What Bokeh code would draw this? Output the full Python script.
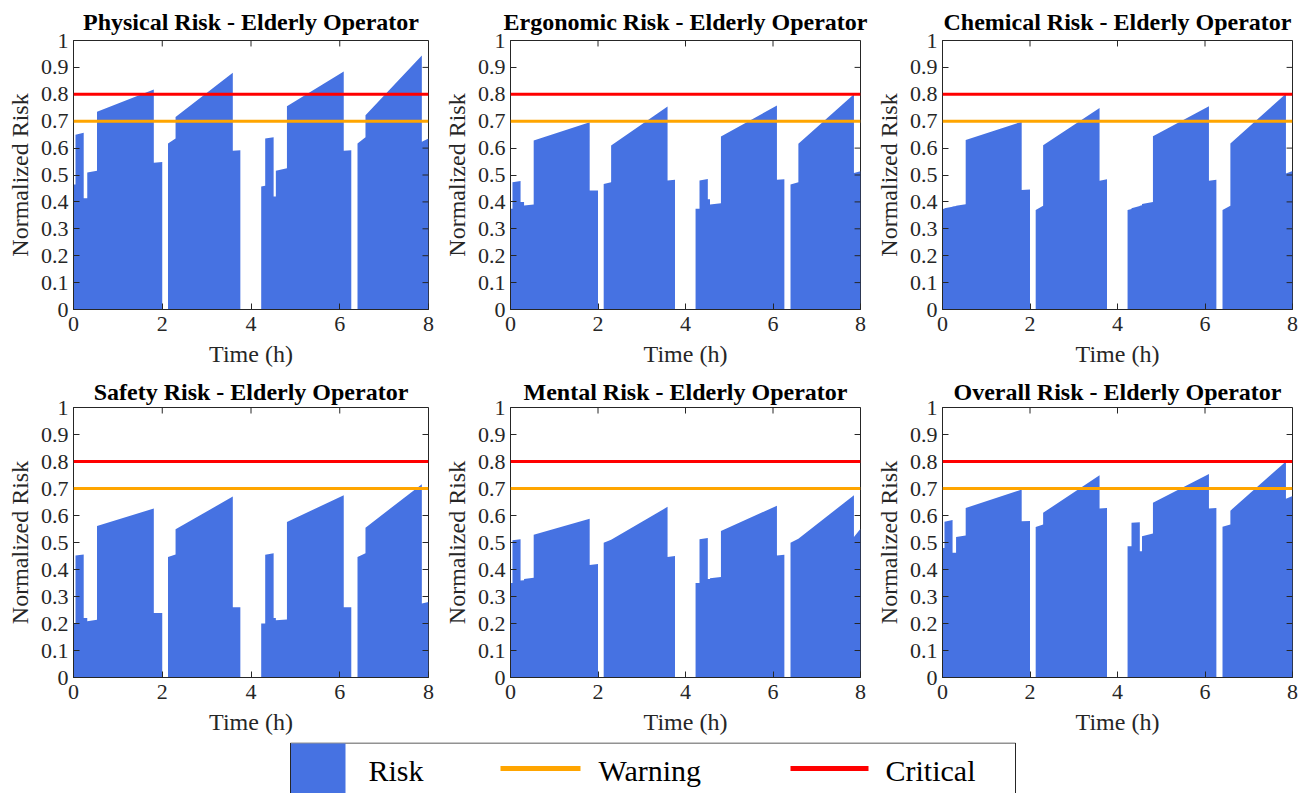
from bokeh.plotting import figure
from bokeh.models import Range1d, FixedTicker, Span
from bokeh.layouts import column, row
from bokeh.embed import file_html
from bokeh.resources import INLINE
from bokeh.core.properties import value

# ---------------- data ----------------
# segment edges of the shift timeline (hours)
EDGES = [0.0, 0.045, 0.23, 0.31, 0.53, 1.81, 2.0, 2.13, 2.30, 3.59, 3.76,
         4.23, 4.32, 4.51, 4.56, 4.81, 6.09, 6.26, 6.40, 6.58, 7.85, 8.0]

# risk value at start / end of each segment
physical_start = [0.465, 0.650, 0.414, 0.509, 0.735, 0.546, 0, 0.617, 0.716, 0.590, 0,
                  0.457, 0.636, 0.420, 0.516, 0.756, 0.590, 0, 0.617, 0.722, 0.624]
physical_end = [0.465, 0.657, 0.414, 0.516, 0.818, 0.548, 0, 0.636, 0.880, 0.592, 0,
                0.460, 0.640, 0.420, 0.525, 0.885, 0.592, 0, 0.640, 0.944, 0.636]

ergonomic_start = [0.375, 0.473, 0.400, 0.387, 0.628, 0.442, 0, 0.467, 0.610, 0.480, 0,
                   0.375, 0.480, 0.410, 0.390, 0.643, 0.482, 0, 0.465, 0.616, 0.507]
ergonomic_end = [0.375, 0.478, 0.400, 0.390, 0.696, 0.442, 0, 0.473, 0.755, 0.482, 0,
                 0.375, 0.485, 0.410, 0.395, 0.758, 0.484, 0, 0.473, 0.800, 0.514]

chemical_start = [0.374, 0.376, 0.383, 0.386, 0.630, 0.444, 0, 0.370, 0.611, 0.479, 0,
                  0.370, 0.376, 0.386, 0.392, 0.644, 0.479, 0, 0.370, 0.617, 0.506]
chemical_end = [0.375, 0.382, 0.385, 0.391, 0.698, 0.446, 0, 0.386, 0.749, 0.484, 0,
                0.374, 0.385, 0.388, 0.400, 0.756, 0.482, 0, 0.386, 0.802, 0.515]

safety_start = [0.200, 0.452, 0.220, 0.208, 0.561, 0.239, 0, 0.446, 0.549, 0.260, 0,
                0.200, 0.455, 0.220, 0.212, 0.576, 0.260, 0, 0.446, 0.555, 0.274]
safety_end = [0.200, 0.456, 0.220, 0.214, 0.626, 0.239, 0, 0.456, 0.670, 0.260, 0,
              0.200, 0.460, 0.220, 0.215, 0.675, 0.260, 0, 0.460, 0.716, 0.280]

mental_start = [0.350, 0.508, 0.359, 0.365, 0.529, 0.417, 0, 0.499, 0.510, 0.446, 0,
                0.350, 0.512, 0.365, 0.368, 0.543, 0.452, 0, 0.499, 0.514, 0.520]
mental_end = [0.350, 0.512, 0.360, 0.369, 0.588, 0.420, 0, 0.510, 0.632, 0.450, 0,
              0.350, 0.517, 0.365, 0.372, 0.636, 0.455, 0, 0.514, 0.675, 0.551]

overall_start = [0.480, 0.577, 0.462, 0.520, 0.628, 0.579, 0, 0.557, 0.610, 0.626, 0,
                 0.486, 0.573, 0.468, 0.523, 0.647, 0.626, 0, 0.558, 0.618, 0.662]
overall_end = [0.480, 0.583, 0.462, 0.526, 0.696, 0.580, 0, 0.567, 0.749, 0.628, 0,
               0.486, 0.575, 0.468, 0.533, 0.754, 0.628, 0, 0.567, 0.800, 0.672]

TITLES = ["Physical Risk - Elderly Operator", "Ergonomic Risk - Elderly Operator",
          "Chemical Risk - Elderly Operator", "Safety Risk - Elderly Operator",
          "Mental Risk - Elderly Operator", "Overall Risk - Elderly Operator"]
SERIES = [(physical_start, physical_end), (ergonomic_start, ergonomic_end),
          (chemical_start, chemical_end), (safety_start, safety_end),
          (mental_start, mental_end), (overall_start, overall_end)]

WARNING = 0.7
CRITICAL = 0.8
X_MIN, X_MAX = 0, 8
Y_MIN, Y_MAX = 0, 1
X_TICKS = [0, 2, 4, 6, 8]
Y_TICKS = [0, 0.1, 0.2, 0.3, 0.4, 0.5, 0.6, 0.7, 0.8, 0.9, 1.0]
Y_TICK_LABELS = ["0", "0.1", "0.2", "0.3", "0.4", "0.5", "0.6", "0.7", "0.8", "0.9", "1"]
LEGEND_LABELS = ["Risk", "Warning", "Critical"]

# ---------------- style ----------------
FONT = "Liberation Serif"
BLUE = "#4672E2"
ORANGE = "#FFA500"
RED = "#FF0000"
AXC = "#262626"
FRAME_W = 355
FRAME_H = 270
TICK_PX = 6


def style_axis(ax):
    ax.axis_line_color = AXC
    ax.major_tick_line_color = AXC
    ax.major_tick_in = TICK_PX
    ax.major_tick_out = 0
    ax.minor_tick_line_color = None
    ax.major_label_text_font = FONT
    ax.major_label_text_font_size = "22px"
    ax.major_label_text_color = AXC
    ax.axis_label_text_font = FONT
    ax.axis_label_text_font_size = "24px"
    ax.axis_label_text_font_style = "normal"
    ax.axis_label_text_color = AXC


def make_panel(title, starts, ends, left_border, top_border, bottom_border,
               title_standoff, x_label_standoff):
    xs, ys = [], []
    for i in range(len(starts)):
        xs += [EDGES[i], EDGES[i + 1]]
        ys += [starts[i], ends[i]]
    right_border = 12
    p = figure(width=left_border + FRAME_W + right_border,
               height=top_border + FRAME_H + bottom_border,
               x_range=Range1d(X_MIN, X_MAX), y_range=Range1d(Y_MIN, Y_MAX),
               output_backend="svg", toolbar_location=None,
               min_border_left=left_border, min_border_right=right_border,
               min_border_top=top_border, min_border_bottom=bottom_border)
    p.varea(x=xs, y1=0, y2=ys, fill_color=BLUE)
    p.add_layout(Span(location=WARNING, dimension="width", line_color=ORANGE, line_width=3))
    p.add_layout(Span(location=CRITICAL, dimension="width", line_color=RED, line_width=3))
    # inward ticks on the top and right edges of the box
    dy = TICK_PX * (Y_MAX - Y_MIN) / FRAME_H
    dx = TICK_PX * (X_MAX - X_MIN) / FRAME_W
    p.segment(x0=X_TICKS, y0=[Y_MAX] * len(X_TICKS), x1=X_TICKS,
              y1=[Y_MAX - dy] * len(X_TICKS), line_color=AXC, line_width=1)
    p.segment(x0=[X_MAX] * len(Y_TICKS), y0=Y_TICKS, x1=[X_MAX - dx] * len(Y_TICKS),
              y1=Y_TICKS, line_color=AXC, line_width=1)
    p.xgrid.visible = False
    p.ygrid.visible = False
    p.outline_line_color = AXC
    p.outline_line_alpha = 1
    p.title.text = title
    p.title.text_font = FONT
    p.title.text_font_size = "24px"
    p.title.text_font_style = "bold"
    p.title.text_color = "black"
    p.title.align = "center"
    p.title.standoff = title_standoff
    p.xaxis.ticker = FixedTicker(ticks=X_TICKS)
    p.yaxis.ticker = FixedTicker(ticks=Y_TICKS)
    p.yaxis.major_label_overrides = {t: l for t, l in zip(Y_TICKS, Y_TICK_LABELS)}
    p.xaxis.axis_label = "Time (h)"
    p.yaxis.axis_label = "Normalized Risk"
    style_axis(p.xaxis[0])
    style_axis(p.yaxis[0])
    p.xaxis.major_label_standoff = 7
    p.yaxis.major_label_standoff = 5
    p.xaxis.axis_label_standoff = x_label_standoff
    p.yaxis.axis_label_standoff = 5
    return p


panels = []
for k, (title, (s, e)) in enumerate(zip(TITLES, SERIES)):
    left = 73 if k % 3 == 0 else 65
    if k < 3:
        panels.append(make_panel(title, s, e, left, 39, 65, 12, 7))
    else:
        panels.append(make_panel(title, s, e, left, 33, 65, 5, 7))

# ---------------- legend strip ----------------
LG_TOP = 742
LG_W, LG_H = 1304, 51
lg = figure(width=LG_W, height=LG_H, x_range=Range1d(0, LG_W),
            y_range=Range1d(LG_TOP + LG_H, LG_TOP),
            output_backend="svg", toolbar_location=None,
            min_border_left=0, min_border_right=0, min_border_top=0, min_border_bottom=0,
            x_axis_location=None, y_axis_location=None)
lg.xgrid.visible = False
lg.ygrid.visible = False
lg.outline_line_color = None
lg.quad(left=[290], right=[1015], top=[LG_TOP + 0.5], bottom=[LG_TOP + 60], fill_color="white",
        line_color=AXC, line_width=1)
lg.quad(left=[290.5], right=[345], top=[LG_TOP + 1], bottom=[LG_TOP + 60], fill_color=BLUE,
        line_color=None)
lg.line(x=[500, 580], y=[768, 768], line_color=ORANGE, line_width=5)
lg.line(x=[790, 868], y=[768, 768], line_color=RED, line_width=5)
lg.text(x=[368, 598, 885], y=[770, 770, 770], text=LEGEND_LABELS,
        text_font=value(FONT), text_font_size=value("30px"), text_color="black",
        text_baseline="middle", text_align="left")

layout = column(row(*panels[:3]), row(*panels[3:]), lg)

with open("out.html", "w") as f:
    f.write(file_html(layout, INLINE))
